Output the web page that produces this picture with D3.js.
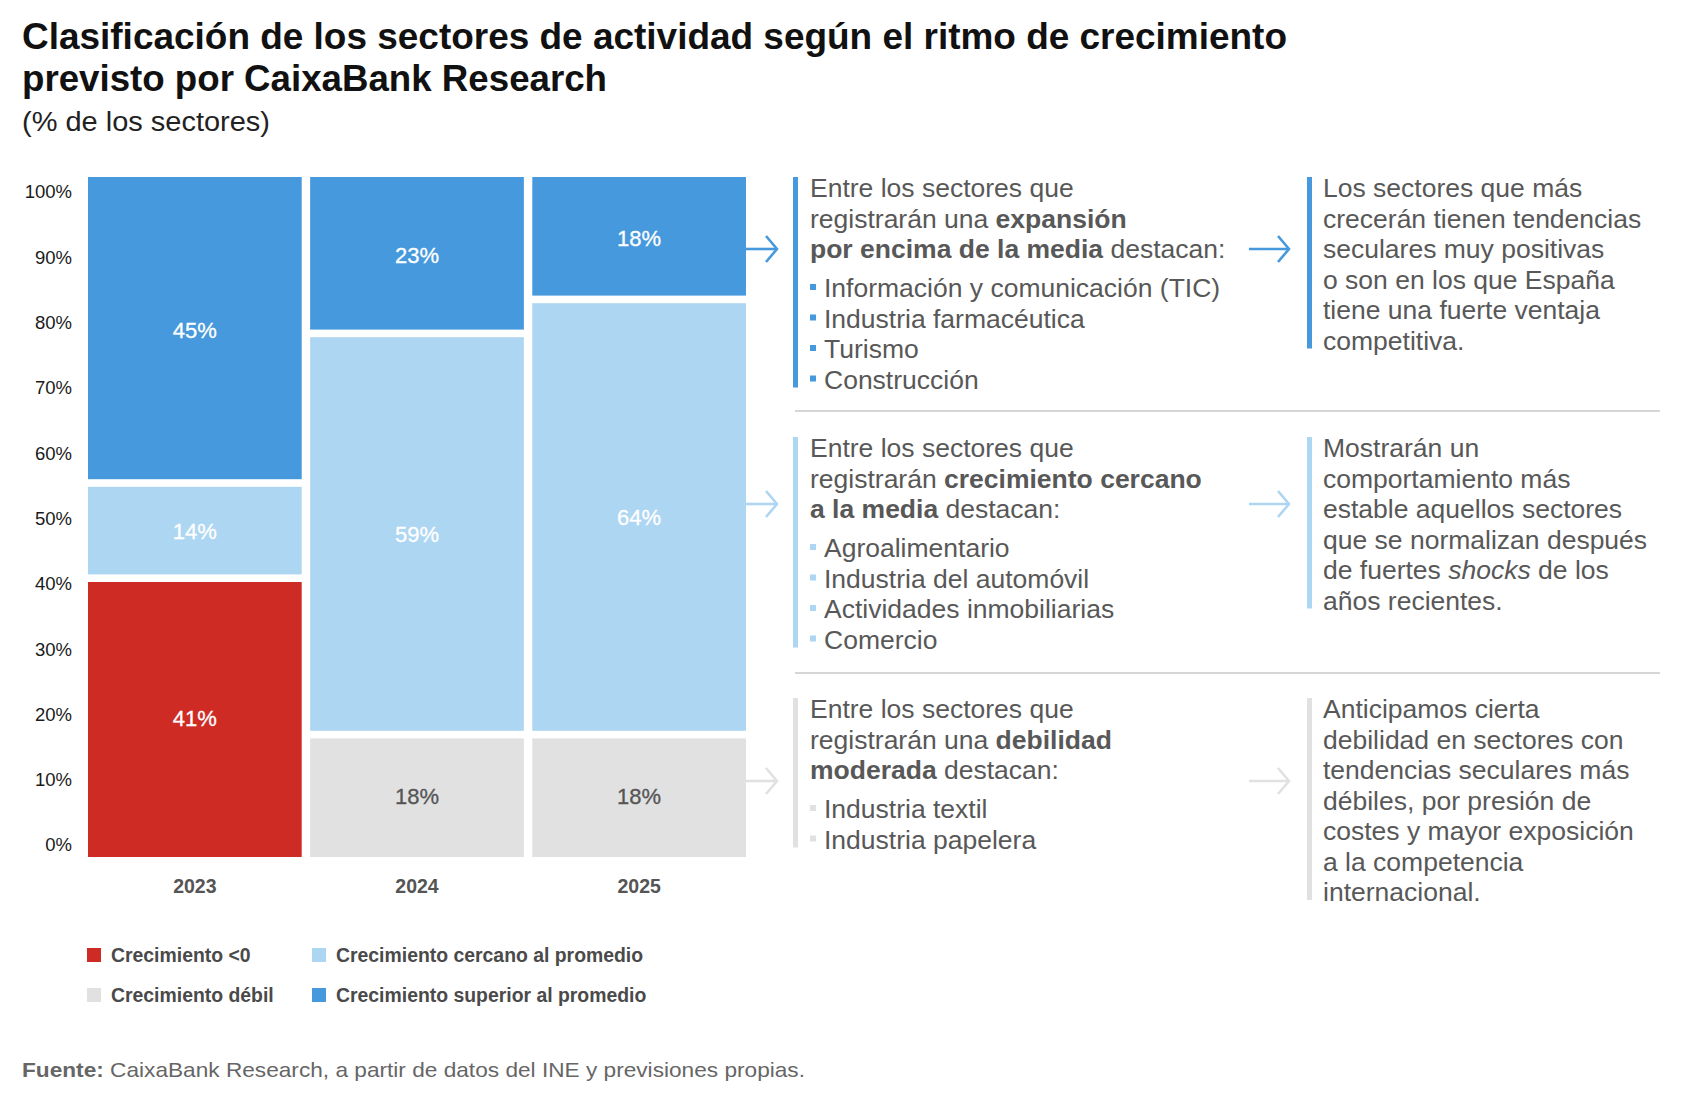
<!DOCTYPE html>
<html><head><meta charset="utf-8">
<script src="https://cdn.jsdelivr.net/npm/d3@7"></script>
<style>
html,body{margin:0;padding:0;background:#fff;}
svg{display:block;font-family:"Liberation Sans",Arial,Helvetica,sans-serif;}
</style></head>
<body>
<svg id="chart" width="1706" height="1101"></svg>
<script>
// ---------- DATA ----------
const years = ["2023", "2024", "2025"];
const seriesKeys = ["neg", "weak", "near", "above"];
const seriesNames = ["Crecimiento <0", "Crecimiento débil", "Crecimiento cercano al promedio", "Crecimiento superior al promedio"];
const negative = [41, 0, 0];
const weak = [0, 18, 18];
const near = [14, 59, 64];
const above = [45, 23, 18];
const yTicks = [0, 10, 20, 30, 40, 50, 60, 70, 80, 90, 100];

const titleLines = ["Clasificación de los sectores de actividad según el ritmo de crecimiento", "previsto por CaixaBank Research"];
const subtitle = "(% de los sectores)";

const panelLeft = [
  {lines: [[["Entre los sectores que", 0]], [["registrarán una ", 0], ["expansión", 1]], [["por encima de la media", 1], [" destacan:", 0]]],
   bullets: ["Información y comunicación (TIC)", "Industria farmacéutica", "Turismo", "Construcción"]},
  {lines: [[["Entre los sectores que", 0]], [["registrarán ", 0], ["crecimiento cercano", 1]], [["a la media", 1], [" destacan:", 0]]],
   bullets: ["Agroalimentario", "Industria del automóvil", "Actividades inmobiliarias", "Comercio"]},
  {lines: [[["Entre los sectores que", 0]], [["registrarán una ", 0], ["debilidad", 1]], [["moderada", 1], [" destacan:", 0]]],
   bullets: ["Industria textil", "Industria papelera"]}
];
const panelRight = [
  [[["Los sectores que más", 0]], [["crecerán tienen tendencias", 0]], [["seculares muy positivas", 0]], [["o son en los que España", 0]], [["tiene una fuerte ventaja", 0]], [["competitiva.", 0]]],
  [[["Mostrarán un", 0]], [["comportamiento más", 0]], [["estable aquellos sectores", 0]], [["que se normalizan después", 0]], [["de fuertes ", 0], ["shocks", 2], [" de los", 0]], [["años recientes.", 0]]],
  [[["Anticipamos cierta", 0]], [["debilidad en sectores con", 0]], [["tendencias seculares más", 0]], [["débiles, por presión de", 0]], [["costes y mayor exposición", 0]], [["a la competencia", 0]], [["internacional.", 0]]]
];
const sourceBold = "Fuente:";
const sourceText = " CaixaBank Research, a partir de datos del INE y previsiones propias.";

// ---------- STYLE ----------
const colors = {neg: "#cf2b25", weak: "#e1e1e1", near: "#add6f3", above: "#4699dc"};
const panelColors = ["#4699dc", "#add6f3", "#e1e1e1"];
const textGrey = "#585858";

const svg = d3.select("#chart");
svg.append("rect").attr("width", 1706).attr("height", 1101).attr("fill", "#fff");

function fit(sel, w) {
  sel.attr("textLength", w).attr("lengthAdjust", "spacingAndGlyphs");
}

// Titles
const tl = [[49, 1265], [91, 585]];
titleLines.forEach((t, i) => {
  svg.append("text").attr("x", 22).attr("y", tl[i][0]).attr("font-size", 36.5).attr("font-weight", "bold")
    .attr("fill", "#111").text(t).call(fit, tl[i][1]);
});
svg.append("text").attr("x", 22).attr("y", 131).attr("font-size", 27).attr("fill", "#222").text(subtitle).call(fit, 248);

// ---------- CHART ----------
const table = years.map((y, i) => ({year: y, neg: negative[i], weak: weak[i], near: near[i], above: above[i]}));
const stack = d3.stack().keys(seriesKeys)(table);

const x = d3.scaleBand().domain(years).range([88, 746]).paddingInner(0.038).paddingOuter(0);
const y = d3.scaleLinear().domain([0, 100]).range([857, 177]);
const yLab = d3.scaleLinear().domain([0, 100]).range([845, 192]);
const gap = 3.8;

const segs = [];
stack.forEach(layer => {
  layer.forEach((d, i) => {
    const v = d[1] - d[0];
    if (v > 0) segs.push({key: layer.key, year: years[i], y0: d[0], y1: d[1], v});
  });
});

const gBars = svg.append("g");
gBars.selectAll("rect").data(segs).join("rect")
  .attr("x", d => x(d.year))
  .attr("width", x.bandwidth())
  .attr("y", d => y(d.y1) + (d.y1 < 100 ? gap : 0))
  .attr("height", d => (y(d.y0) - (d.y0 > 0 ? gap : 0)) - (y(d.y1) + (d.y1 < 100 ? gap : 0)))
  .attr("fill", d => colors[d.key]);

gBars.selectAll("text").data(segs).join("text")
  .attr("x", d => x(d.year) + x.bandwidth() / 2)
  .attr("y", d => y((d.y0 + d.y1) / 2))
  .attr("dy", "0.36em")
  .attr("text-anchor", "middle")
  .attr("font-size", 22)
  .attr("fill", d => d.key === "weak" ? "#555" : "#fff")
  .attr("stroke", d => d.key === "weak" ? "#555" : "#fff")
  .attr("stroke-width", 0.3)
  .text(d => d.v + "%");

// Y axis labels
const yAxis = svg.append("g").attr("transform", "translate(72,0)")
  .call(d3.axisLeft(yLab).tickValues(yTicks).tickFormat(d => d + "%").tickSize(0).tickPadding(0));
yAxis.select(".domain").remove();
yAxis.selectAll("text").attr("font-size", 18.5).attr("fill", "#1a1a1a").attr("font-family", "Liberation Sans, Arial, sans-serif");

// X axis labels
const xAxis = svg.append("g").attr("transform", "translate(0,893)")
  .call(d3.axisBottom(x).tickSize(0).tickPadding(0));
xAxis.select(".domain").remove();
xAxis.selectAll("text").attr("font-size", 19.5).attr("font-weight", "bold").attr("fill", "#555")
  .attr("dy", 0).attr("font-family", "Liberation Sans, Arial, sans-serif");

// Legend
const legendOrder = [["neg", 0, 0], ["near", 1, 0], ["weak", 0, 1], ["above", 1, 1]];
const lg = svg.append("g");
legendOrder.forEach(([k, c, r]) => {
  const lx = [87, 312][c], ly = [962, 1002][r];
  lg.append("rect").attr("x", lx).attr("y", ly - 14).attr("width", 14).attr("height", 14).attr("fill", colors[k]);
  lg.append("text").attr("x", lx + 24).attr("y", ly).attr("font-size", 19.4).attr("font-weight", "bold")
    .attr("fill", "#4a4a4a").text(seriesNames[seriesKeys.indexOf(k)]);
});

// Source
const src = svg.append("text").attr("x", 22).attr("y", 1077).attr("font-size", 21).attr("fill", "#666");
src.append("tspan").attr("font-weight", "bold").text(sourceBold);
src.append("tspan").text(sourceText);
src.call(fit, 783);

// ---------- PANELS ----------
const panelTop = [197, 457, 718];
const arrowY = [249, 504, 781];
const lineH = 30.5;
const fs = 26.5;

function addLine(x0, yy, parts) {
  const t = svg.append("text").attr("x", x0).attr("y", yy).attr("font-size", fs).attr("fill", textGrey);
  parts.forEach(([s, st]) => {
    const sp = t.append("tspan").text(s);
    if (st === 1) sp.attr("font-weight", "bold");
    if (st === 2) sp.attr("font-style", "italic");
  });
  return t;
}

function arrow(x1, x2, yy, col) {
  svg.append("line").attr("x1", x1).attr("x2", x2 - 1).attr("y1", yy).attr("y2", yy)
    .attr("stroke", col).attr("stroke-width", 2.6);
  svg.append("path").attr("d", `M${x2 - 11},${yy - 13} L${x2},${yy} L${x2 - 11},${yy + 13}`)
    .attr("fill", "none").attr("stroke", col).attr("stroke-width", 2.6);
}

panelLeft.forEach((p, i) => {
  const col = panelColors[i];
  const top = panelTop[i];
  p.lines.forEach((ln, j) => { addLine(810, top + j * lineH, ln); });
  const bStart = top + 2 * lineH + 39;
  p.bullets.forEach((b, j) => {
    const by = bStart + j * lineH;
    svg.append("rect").attr("x", 810).attr("y", by - 13).attr("width", 6).attr("height", 6).attr("fill", col);
    addLine(824, by, [[b, 0]]);
  });
  const lastL = bStart + (p.bullets.length - 1) * lineH;
  svg.append("rect").attr("x", 793).attr("y", top - 20).attr("width", 5).attr("height", lastL - top + 19).attr("fill", col);

  const r = panelRight[i];
  r.forEach((ln, j) => addLine(1323, top + j * lineH, ln));
  const lastR = top + (r.length - 1) * lineH;
  svg.append("rect").attr("x", 1307).attr("y", top - 20).attr("width", 5).attr("height", lastR - top + 19).attr("fill", col);

  arrow(746, 777, arrowY[i], col);
  arrow(1249, 1289, arrowY[i], col);
});

// separators
[411, 673].forEach(sy => {
  svg.append("line").attr("x1", 795).attr("x2", 1660).attr("y1", sy).attr("y2", sy)
    .attr("stroke", "#c9c9c9").attr("stroke-width", 1.5);
});
</script>
</body></html>
